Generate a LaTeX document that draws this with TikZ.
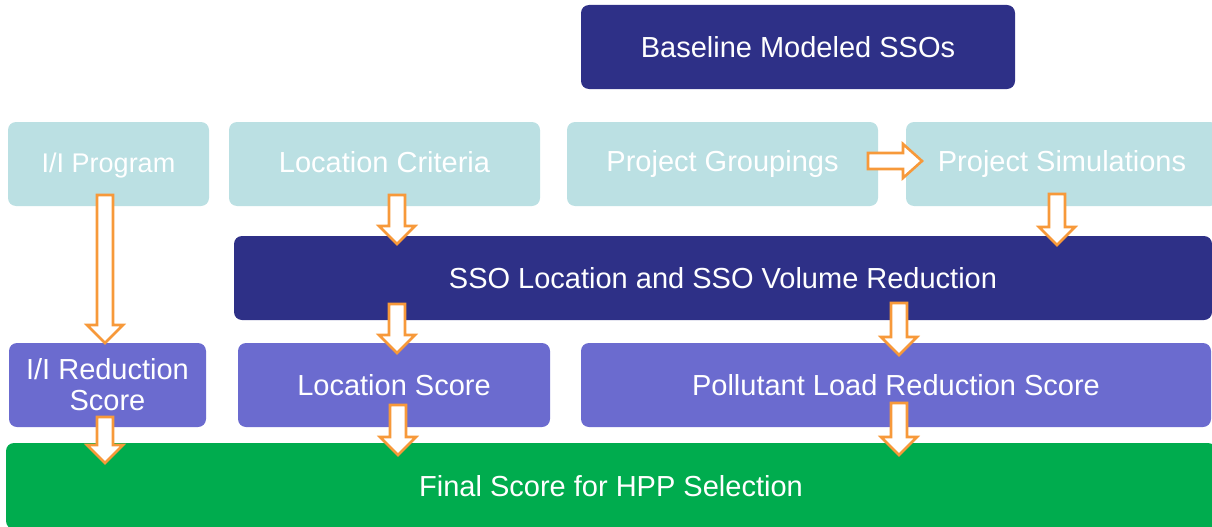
\documentclass[tikz,border=0pt]{standalone}
\usepackage{fontspec}
\setmainfont{Liberation Sans}
\definecolor{navy}{HTML}{2E3087}
\definecolor{teal}{HTML}{BBE0E3}
\definecolor{purp}{HTML}{6B6BCF}
\definecolor{grn}{HTML}{00AC4E}
\definecolor{orng}{HTML}{F7993A}
\tikzset{
  box/.style={rounded corners=8pt, inner sep=0pt, text=white, font=\fontsize{29}{31}\selectfont, align=center, minimum height=84pt},
  navybox/.style={box, fill=navy},
  tealbox/.style={box, fill=teal},
  purpbox/.style={box, fill=purp},
  grnbox/.style={box, fill=grn},
  barrow/.style={draw=orng, fill=white, line width=2.6pt, line join=miter}
}
% down block arrow: x, ytop, ytip
\newcommand\dblock[3]{%
  \draw[barrow] (#1-8,#2) -- (#1+8,#2) -- (#1+8,#3-18) -- (#1+18,#3-18) -- (#1,#3) -- (#1-18,#3-18) -- (#1-8,#3-18) -- cycle;}
% right block arrow: y, xstart, xtip
\newcommand\rblock[3]{%
  \draw[barrow] (#2,#1-8) -- (#2,#1+8) -- (#3-19,#1+8) -- (#3-19,#1+17) -- (#3,#1) -- (#3-19,#1-17) -- (#3-19,#1-8) -- cycle;}
\begin{document}
\begin{tikzpicture}[x=1pt,y=-1pt]
\useasboundingbox (0,0) rectangle (1212,527);
\clip (0,0) rectangle (1212,527);
\node[navybox, minimum width=434pt] (base) at (798,47) {Baseline Modeled SSOs};
\node[tealbox, minimum width=201pt] (ii) at (108.5,164) {};
\node[text=white, font=\fontsize{27}{29}\selectfont] at (108.5,166) {I/I Program};
\node[tealbox, minimum width=311pt] (loc) at (384.5,164) {};
\node[text=white, font=\fontsize{29}{31}\selectfont] at (384.5,162) {Location Criteria};
\node[tealbox, minimum width=311pt] (grp) at (722.5,164) {Project Groupings};
\node[tealbox, minimum width=312pt] (sim) at (1062,164) {Project Simulations};
\node[navybox, minimum width=978pt] (sso) at (723,278) {SSO Location and SSO Volume Reduction};
\node[purpbox, minimum width=197pt] (iirs) at (107.5,385) {I/I Reduction\\Score};
\node[purpbox, minimum width=312pt] (ls) at (394,385) {Location Score};
\node[purpbox, minimum width=630pt] (pl) at (896,385) {Pollutant Load Reduction Score};
\node[grnbox, minimum width=1210pt, minimum height=86pt] (fin) at (611,486) {Final Score for HPP Selection};
\rblock{161}{868}{922}
\dblock{105}{195}{343}
\dblock{397}{195}{244}
\dblock{1057}{194}{245}
\dblock{397}{304}{353}
\dblock{899}{303}{355}
\dblock{105}{417}{463}
\dblock{398}{405}{455}
\dblock{899}{403}{455}
\end{tikzpicture}
\end{document}
